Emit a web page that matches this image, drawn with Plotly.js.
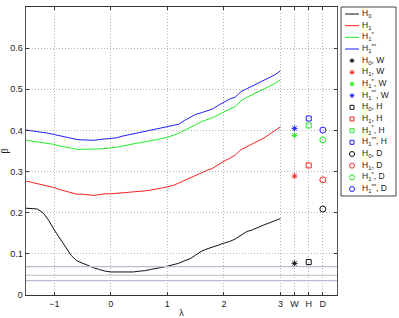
<!DOCTYPE html>
<html>
<head>
<meta charset="utf-8">
<script src="https://cdn.plot.ly/plotly-3.0.1.min.js"></script>
<style>
  html, body { margin: 0; padding: 0; background: #fff; }
  #plot { width: 399px; height: 318px; }
</style>
</head>
<body>
<div id="plot"></div>
<script>
// lambda grid of the curves
const lambda = [-1.5, -1.4, -1.3, -1.2, -1.1, -1.0, -0.9, -0.8, -0.7, -0.6,
  -0.5, -0.4, -0.3, -0.2, -0.1, 0.0, 0.1, 0.2, 0.3, 0.4,
  0.5, 0.6, 0.7, 0.8, 0.9, 1.0, 1.1, 1.2, 1.3, 1.4,
  1.5, 1.6, 1.7, 1.8, 1.9, 2.0, 2.1, 2.2, 2.3, 2.4,
  2.5, 2.6, 2.7, 2.8, 2.9, 3.0];

const betaH0 = [0.211, 0.210, 0.209, 0.200, 0.182, 0.158, 0.138, 0.118, 0.096, 0.083,
  0.077, 0.071, 0.066, 0.062, 0.058, 0.056, 0.056, 0.056, 0.057, 0.056,
  0.058, 0.059, 0.062, 0.064, 0.067, 0.070, 0.074, 0.077, 0.083, 0.088,
  0.097, 0.106, 0.112, 0.116, 0.121, 0.126, 0.130, 0.136, 0.145, 0.154,
  0.158, 0.165, 0.170, 0.175, 0.180, 0.186];

const betaH1 = [0.277, 0.274, 0.271, 0.268, 0.264, 0.261, 0.256, 0.252, 0.249, 0.245,
  0.245, 0.244, 0.242, 0.244, 0.246, 0.246, 0.247, 0.248, 0.250, 0.251,
  0.251, 0.253, 0.255, 0.257, 0.260, 0.263, 0.266, 0.272, 0.278, 0.284,
  0.292, 0.298, 0.303, 0.308, 0.317, 0.325, 0.332, 0.340, 0.353, 0.360,
  0.366, 0.374, 0.381, 0.390, 0.399, 0.409];

const betaH1s = [0.376, 0.374, 0.372, 0.370, 0.368, 0.366, 0.362, 0.360, 0.357, 0.354,
  0.354, 0.354, 0.354, 0.355, 0.356, 0.357, 0.359, 0.362, 0.365, 0.368,
  0.370, 0.372, 0.375, 0.378, 0.380, 0.383, 0.388, 0.393, 0.400, 0.407,
  0.415, 0.421, 0.426, 0.431, 0.438, 0.446, 0.452, 0.458, 0.472, 0.480,
  0.487, 0.493, 0.499, 0.506, 0.514, 0.523];

const betaH1ss = [0.401, 0.399, 0.397, 0.396, 0.393, 0.390, 0.387, 0.384, 0.381, 0.378,
  0.377, 0.377, 0.376, 0.378, 0.379, 0.380, 0.382, 0.386, 0.389, 0.392,
  0.394, 0.397, 0.400, 0.403, 0.406, 0.409, 0.412, 0.415, 0.424, 0.432,
  0.439, 0.443, 0.448, 0.452, 0.461, 0.469, 0.476, 0.481, 0.494, 0.501,
  0.508, 0.514, 0.520, 0.527, 0.535, 0.545];

// single values per method, order: H0, H1, H1*, H1**
const betaW = [0.077, 0.289, 0.388, 0.405];
const betaH = [0.080, 0.315, 0.412, 0.429];
const betaD = [0.209, 0.280, 0.377, 0.401];

// positions of the method columns on the lambda axis
const methodPos = {W: 3.25, H: 3.5, D: 3.75};

// horizontal reference levels
const refLevels = [0.069, 0.048, 0.035];

const xTickVals = [-1, 0, 1, 2, 3, 3.25, 3.5, 3.75];
const xTickText = ['\u22121', '0', '1', '2', '3', 'W', 'H', 'D'];
const yTickVals = [0, 0.1, 0.2, 0.3, 0.4, 0.5, 0.6];
const yTickText = ['0', '0.1', '0.2', '0.3', '0.4', '0.5', '0.6'];

const hypNames = ['H<sub>0</sub>', 'H<sub>1</sub>', 'H<sub>1</sub><sup>*</sup>', 'H<sub>1</sub><sup>**</sup>'];
const colors = ['#111111', '#ff2020', '#20ee20', '#2020ff'];

function draw() {
  const curves = [betaH0, betaH1, betaH1s, betaH1ss];
  const data = [];
  const legendRows = []; // one row per legend entry

  curves.forEach((ys, i) => {
    data.push({
      x: lambda, y: ys, type: 'scatter', mode: 'lines',
      name: hypNames[i], showlegend: false,
      line: {color: colors[i], width: 1}
    });
    legendRows.push({name: hypNames[i], color: colors[i], kind: 'line'});
  });

  const methods = [
    {key: 'W', vals: betaW, symbol: 'asterisk-open', size: 5},
    {key: 'H', vals: betaH, symbol: 'square-open', size: 5},
    {key: 'D', vals: betaD, symbol: 'circle-open', size: 6}
  ];

  methods.forEach((m) => {
    m.vals.forEach((v, i) => {
      const name = hypNames[i] + ', ' + m.key;
      data.push({
        x: [methodPos[m.key]], y: [v], type: 'scatter', mode: 'markers',
        name: name, showlegend: false,
        marker: {symbol: m.symbol, size: m.size, color: colors[i],
          line: {color: colors[i], width: 1}}
      });
      legendRows.push({name: name, color: colors[i], kind: 'marker', symbol: m.symbol, size: m.size});
    });
  });

  // legend drawn in its own small axes, one row per entry
  legendRows.forEach((r, i) => {
    if (r.kind === 'line') {
      data.push({
        x: [4, 18], y: [i, i], xaxis: 'x2', yaxis: 'y2', type: 'scatter', mode: 'lines',
        showlegend: false, hoverinfo: 'skip', line: {color: r.color, width: 1}
      });
    } else {
      data.push({
        x: [11], y: [i], xaxis: 'x2', yaxis: 'y2', type: 'scatter', mode: 'markers',
        showlegend: false, hoverinfo: 'skip',
        marker: {symbol: r.symbol, size: r.size - 1, color: r.color, line: {color: r.color, width: 1}}
      });
    }
  });
  data.push({
    x: legendRows.map(() => 21), y: legendRows.map((r, i) => i),
    text: legendRows.map((r) => r.name),
    xaxis: 'x2', yaxis: 'y2', type: 'scatter', mode: 'text',
    textposition: 'middle right', showlegend: false, hoverinfo: 'skip',
    textfont: {family: 'Liberation Sans, Arial, sans-serif', size: 8.5, color: '#222'}
  });

  const shapes = refLevels.map((v) => ({
    type: 'line', xref: 'x domain', x0: 0, x1: 1, yref: 'y', y0: v, y1: v,
    line: {color: 'rgba(195,182,208,1)', width: 1.2}
  }));
  shapes.push({
    type: 'rect', xref: 'x2 domain', yref: 'y2 domain', x0: 0, x1: 1, y0: 0, y1: 1,
    line: {color: '#444', width: 1}, fillcolor: 'rgba(0,0,0,0)'
  });

  const font = {family: 'Liberation Sans, Arial, sans-serif', size: 9, color: '#222'};
  const gridDash = '1px,2px';

  const layout = {
    width: 399,
    height: 318,
    margin: {l: 26, r: 3, t: 7, b: 23},
    paper_bgcolor: '#fff',
    plot_bgcolor: 'rgba(0,0,0,0)',
    font: font,
    showlegend: false,
    xaxis: {
      domain: [0, 0.8405],
      range: [-1.5, 4],
      tickvals: xTickVals, ticktext: xTickText,
      ticks: 'inside', ticklen: 3, tickcolor: '#333',
      showline: true, linecolor: '#333', linewidth: 1, mirror: 'ticks',
      showgrid: true, gridcolor: '#b4b4b4', griddash: gridDash, gridwidth: 1,
      zeroline: false,
      title: {text: '\u03bb', font: {size: 9}, standoff: 2}
    },
    yaxis: {
      range: [0, 0.7],
      tickvals: yTickVals, ticktext: yTickText,
      ticks: 'inside', ticklen: 3, tickcolor: '#333',
      showline: true, linecolor: '#555', linewidth: 1.5, mirror: 'ticks',
      showgrid: true, gridcolor: '#b4b4b4', griddash: gridDash, gridwidth: 1,
      zeroline: false,
      title: {text: '\u03b2', font: {size: 9}, standoff: 4}
    },
    xaxis2: {
      domain: [0.8514, 1.0], anchor: 'y2', range: [0, 55],
      visible: false, fixedrange: true
    },
    yaxis2: {
      domain: [0.3438, 1.0], anchor: 'x2', range: [15.6, -0.6],
      visible: false, fixedrange: true
    },
    shapes: shapes
  };

  Plotly.newPlot('plot', data, layout, {staticPlot: true});
}

draw();
</script>
</body>
</html>
